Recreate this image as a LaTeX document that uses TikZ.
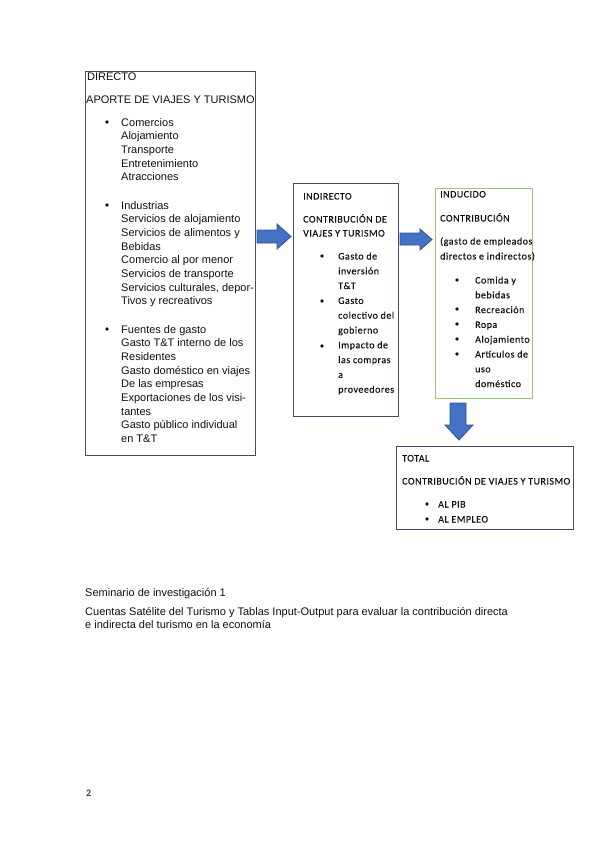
\documentclass[tikz,border=0pt]{standalone}
\usepackage{fontspec}
\setmainfont{Liberation Sans}
\newfontfamily\calfam{Carlito}[LetterSpace=5,FakeBold=0.3]
\newfontfamily\calbfam{Carlito}[LetterSpace=5]
\definecolor{boxc}{HTML}{3E4E6C}
\definecolor{grn}{HTML}{9CC47B}
\definecolor{afill}{HTML}{4472C4}
\definecolor{aline}{HTML}{2F528F}
\definecolor{txt}{HTML}{111111}
\begin{document}
\begin{tikzpicture}[x=1pt,y=-1pt,
  boxst/.style={draw=boxc, line width=1.1pt, anchor=north west, inner sep=0, rectangle},
  gbox/.style={boxst, draw=grn},
  dtx/.style={anchor=base west, inner sep=0, text=txt, font=\fontsize{11}{13}\selectfont},
  ctx/.style={anchor=base west, inner sep=0, text=txt, font=\calfam\fontsize{10}{12}\selectfont},
  dbul/.style={circle, fill=txt, inner sep=0, minimum size=3.8pt},
  cbul/.style={circle, fill=txt, inner sep=0, minimum size=3.8pt},
  barrow/.style={fill=afill, draw=aline, line width=0.8pt, line join=miter}]
\useasboundingbox (0,0) rectangle (599,848);
\fill[white] (0,0) rectangle (599,848);

% boxes
\node[boxst, minimum width=170pt, minimum height=384pt] (dir) at (85,71) {};
\node[boxst, minimum width=105pt, minimum height=233pt] (ind) at (293,183) {};
\node[gbox, minimum width=97pt, minimum height=210pt] (indu) at (435,188) {};
\node[boxst, minimum width=177pt, minimum height=83pt] (tot) at (396,446) {};

% DIRECTO
\node[dtx] (dh1) at (87,81) {DIRECTO};
\node[dtx] (dh2) at (86,104) {APORTE DE VIAJES Y TURISMO};
\node[dbul] (db1) at (107,122) {};
\node[dbul] (db2) at (107,205) {};
\node[dbul] (db3) at (107,329) {};
\foreach \t [count=\i] in {Comercios, Alojamiento, Transporte, Entretenimiento, Atracciones}
  \node[dtx] (da\i) at (121,{126+13.7*(\i-1)}) {\t};
\foreach \t [count=\i] in {Industrias, Servicios de alojamiento, Servicios de alimentos y, Bebidas, Comercio al por menor, Servicios de transporte, {Servicios culturales, depor-}, Tivos y recreativos}
  \node[dtx] (dbb\i) at (121,{209+13.7*(\i-1)}) {\t};
\foreach \t [count=\i] in {Fuentes de gasto, Gasto T\&T interno de los, Residentes, Gasto doméstico en viajes, De las empresas, Exportaciones de los visi-, tantes, Gasto público individual, en T\&T}
  \node[dtx] (dc\i) at (121,{333+13.7*(\i-1)}) {\t};

% INDIRECTO
\node[ctx] (ih1) at (303,199.5) {INDIRECTO};
\node[ctx] (ih2) at (303,222.5) {CONTRIBUCIÓN DE};
\node[ctx] (ih3) at (303,236.5) {VIAJES Y TURISMO};
\node[cbul] (ib1) at (322,256) {};
\node[cbul] (ib2) at (322,301) {};
\node[cbul] (ib3) at (322,346) {};
\foreach \t [count=\i] in {Gasto de, inversión, T\&T, Gasto, colectivo del, gobierno, Impacto de, las compras, a, proveedores}
  \node[ctx] (it\i) at (338,{259.5+14.8*(\i-1)}) {\t};

% INDUCIDO
\node[ctx] (uh1) at (440,197.5) {INDUCIDO};
\node[ctx] (uh2) at (440,221.5) {CONTRIBUCIÓN};
\node[ctx] (uh3) at (440,244.5) {(gasto de empleados};
\node[ctx] (uh4) at (440,259.5) {directos e indirectos)};
\node[cbul] (ub1) at (457,280) {};
\node[cbul] (ub2) at (457,309) {};
\node[cbul] (ub3) at (457,324) {};
\node[cbul] (ub4) at (457,339) {};
\node[cbul] (ub5) at (457,354) {};
\foreach \t [count=\i] in {Comida y, bebidas, Recreación, Ropa, Alojamiento, Artículos de, uso, doméstico}
  \node[ctx] (ut\i) at (475,{283.5+14.8*(\i-1)}) {\t};

% TOTAL
\node[ctx] (th1) at (402,461.5) {TOTAL};
\node[ctx] (th2) at (402,484.5) {CONTRIBUCIÓN DE VIAJES Y TURISMO};
\node[cbul] (tb1) at (427,504) {};
\node[cbul] (tb2) at (427,519) {};
\node[ctx] (tt1) at (438,507.5) {AL PIB};
\node[ctx] (tt2) at (438,522.5) {AL EMPLEO};

% block arrows
\draw[barrow] (257,230) -- (277,230) -- (277,224) -- (291,236.5) -- (277,249) -- (277,243) -- (257,243) -- cycle;
\draw[barrow] (400,233) -- (420,233) -- (420,229) -- (432,239.5) -- (420,250) -- (420,245) -- (400,245) -- cycle;
\draw[barrow] (450,403) -- (466,403) -- (466,425) -- (473,425) -- (459,440) -- (445,425) -- (450,425) -- cycle;

% bottom text
\node[dtx] (s1) at (85,596) {Seminario de investigación 1};
\node[dtx] (s2) at (85,615) {Cuentas Satélite del Turismo y Tablas Input-Output para evaluar la contribución directa};
\node[dtx] (s3) at (85,628) {e indirecta del turismo en la economía};
\node[anchor=base west, inner sep=0, text=txt!80, font=\calbfam\bfseries\fontsize{10}{12}\selectfont] (pg) at (86,796) {2};
\end{tikzpicture}
\end{document}
